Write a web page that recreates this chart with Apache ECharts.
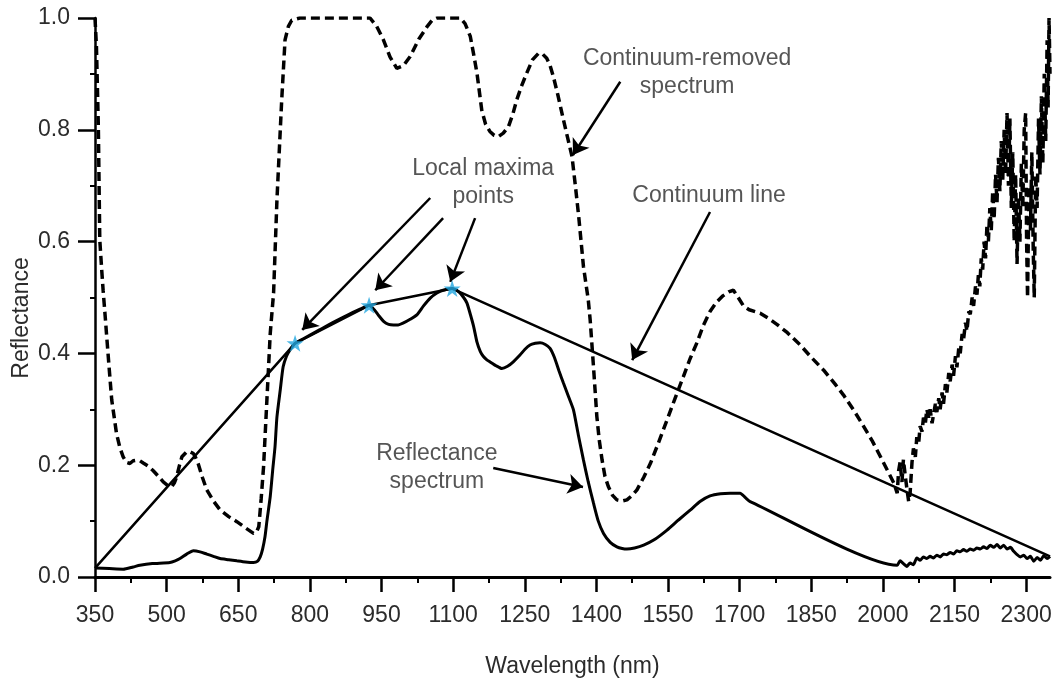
<!DOCTYPE html>
<html>
<head>
<meta charset="utf-8">
<title>Continuum removal of a reflectance spectrum</title>
<script src="https://cdn.jsdelivr.net/npm/echarts@6/dist/echarts.min.js"></script>
<style>
  html, body { margin: 0; padding: 0; background: #fff; }
  #chart { width: 1057px; height: 679px; }
</style>
</head>
<body>
<div id="chart"></div>
<script>
// Reflectance spectrum (solid line)
const reflWavelength = [
  350, 380, 409, 430, 444, 470, 507, 518, 528, 542, 556, 570, 584, 598, 612, 630, 647, 665, 682, 690,
  696, 701, 706, 710, 717, 722, 727, 731, 738, 744, 751, 758, 769, 790, 820, 850, 880, 905, 924, 935,
  943, 955, 965, 975, 985, 995, 1010, 1024, 1038, 1052, 1066, 1079, 1098, 1112, 1122, 1129, 1136, 1143, 1150, 1157,
  1163, 1170, 1177, 1190, 1202, 1214, 1226, 1240, 1250, 1261, 1272, 1282, 1293, 1303, 1312, 1322, 1331, 1342, 1352, 1362,
  1373, 1383, 1394, 1404, 1415, 1429, 1443, 1454, 1464, 1480, 1499, 1520, 1548, 1572, 1597, 1617, 1638, 1660, 1680, 1701,
  1712, 1722, 2030, 2036, 2043, 2050, 2057, 2064, 2071, 2078, 2085, 2092, 2099, 2106, 2113, 2120, 2127, 2134, 2141, 2148,
  2155, 2162, 2169, 2176, 2183, 2190, 2197, 2204, 2211, 2218, 2225, 2232, 2239, 2246, 2253, 2260, 2267, 2274, 2281, 2288,
  2295, 2302, 2309, 2316, 2323, 2330, 2337, 2344, 2350
];
const reflectance = [
  0.016, 0.015, 0.014, 0.018, 0.021, 0.024, 0.026, 0.029, 0.033, 0.041, 0.047, 0.045, 0.041, 0.037, 0.033, 0.031, 0.029, 0.027, 0.026, 0.028,
  0.036, 0.050, 0.072, 0.100, 0.144, 0.190, 0.233, 0.286, 0.335, 0.376, 0.395, 0.406, 0.418, 0.428, 0.442, 0.456, 0.469, 0.479, 0.486, 0.478,
  0.469, 0.457, 0.452, 0.451, 0.451, 0.454, 0.461, 0.469, 0.485, 0.499, 0.508, 0.513, 0.516, 0.510, 0.500, 0.490, 0.470, 0.448, 0.420, 0.403,
  0.395, 0.389, 0.385, 0.378, 0.373, 0.377, 0.385, 0.397, 0.407, 0.415, 0.418, 0.419, 0.416, 0.409, 0.393, 0.368, 0.347, 0.322, 0.299, 0.255,
  0.209, 0.170, 0.132, 0.100, 0.078, 0.062, 0.054, 0.051, 0.050, 0.052, 0.057, 0.066, 0.084, 0.102, 0.120, 0.135, 0.145, 0.149, 0.150, 0.150,
  0.142, 0.135, 0.021, 0.029, 0.024, 0.019, 0.025, 0.022, 0.034, 0.030, 0.036, 0.033, 0.037, 0.034, 0.039, 0.036, 0.041, 0.040, 0.044, 0.041,
  0.047, 0.045, 0.049, 0.046, 0.050, 0.048, 0.052, 0.050, 0.054, 0.051, 0.057, 0.053, 0.058, 0.052, 0.057, 0.050, 0.053, 0.046, 0.040, 0.036,
  0.039, 0.033, 0.037, 0.028, 0.035, 0.030, 0.038, 0.033, 0.037
];

// Continuum-removed spectrum (dashed line)
const crWavelength = [
  350, 353, 357, 360, 364, 367, 371, 374, 380, 385, 395, 402, 409, 416, 423, 430, 437, 444, 451, 462,
  472, 483, 493, 502, 511, 516, 521, 527, 532, 542, 549, 556, 561, 566, 575, 584, 598, 612, 630, 647,
  665, 682, 688, 693, 698, 703, 710, 717, 724, 731, 741, 748, 755, 762, 779, 926, 940, 954, 968, 982,
  996, 1010, 1028, 1045, 1056, 1066, 1115, 1125, 1136, 1143, 1150, 1160, 1168, 1177, 1186, 1195, 1205, 1216, 1225, 1233,
  1244, 1254, 1266, 1279, 1288, 1296, 1303, 1310, 1320, 1331, 1340, 1349, 1356, 1363, 1368, 1373, 1383, 1387, 1394, 1401,
  1406, 1412, 1418, 1425, 1434, 1443, 1454, 1464, 1475, 1485, 1499, 1513, 1530, 1548, 1565, 1582, 1596, 1610, 1624, 1638,
  1652, 1665, 1677, 1687, 1697, 1708, 1720, 1743, 1760, 1778, 1800, 1827, 1850, 1876, 1900, 1918, 1940, 1960, 1978, 1995,
  2010, 2023, 2030, 2033, 2036, 2040, 2043, 2047, 2050, 2054, 2057, 2061, 2064, 2068, 2071, 2075, 2078, 2082, 2085, 2089,
  2092, 2096, 2099, 2103, 2106, 2110, 2113, 2117, 2120, 2124, 2127, 2131, 2134, 2138, 2141, 2145, 2148, 2152, 2155, 2159,
  2162, 2166, 2169, 2173, 2176, 2180, 2183, 2187, 2190, 2194, 2197, 2200, 2203, 2206, 2209, 2212, 2215, 2218, 2221, 2224,
  2227, 2230, 2233, 2236, 2239, 2242, 2245, 2248, 2251, 2254, 2257, 2260, 2263, 2266, 2269, 2272, 2275, 2278, 2281, 2284,
  2287, 2290, 2293, 2296, 2299, 2301, 2303, 2306, 2309, 2312, 2315, 2317, 2320, 2323, 2326, 2329, 2332, 2335, 2338, 2341,
  2344, 2346, 2348, 2350
];
const continuumRemoved = [
  1.000, 0.950, 0.806, 0.603, 0.550, 0.513, 0.470, 0.436, 0.370, 0.317, 0.257, 0.232, 0.215, 0.205, 0.203, 0.208, 0.209, 0.208, 0.204, 0.198,
  0.190, 0.180, 0.170, 0.164, 0.162, 0.168, 0.179, 0.200, 0.215, 0.224, 0.224, 0.221, 0.213, 0.203, 0.178, 0.156, 0.136, 0.120, 0.108, 0.099,
  0.088, 0.078, 0.080, 0.090, 0.140, 0.197, 0.317, 0.436, 0.508, 0.674, 0.853, 0.961, 0.985, 0.996, 1.000, 1.000, 0.985, 0.961, 0.930, 0.910,
  0.915, 0.931, 0.962, 0.984, 0.996, 1.000, 1.000, 0.990, 0.967, 0.935, 0.901, 0.835, 0.810, 0.797, 0.790, 0.788, 0.794, 0.806, 0.828, 0.853,
  0.880, 0.901, 0.925, 0.937, 0.935, 0.928, 0.915, 0.895, 0.860, 0.818, 0.785, 0.752, 0.700, 0.645, 0.600, 0.555, 0.496, 0.460, 0.376, 0.287,
  0.245, 0.209, 0.180, 0.162, 0.146, 0.138, 0.136, 0.138, 0.146, 0.156, 0.178, 0.203, 0.240, 0.281, 0.320, 0.358, 0.390, 0.418, 0.450, 0.475,
  0.492, 0.503, 0.510, 0.513, 0.500, 0.485, 0.478, 0.472, 0.463, 0.452, 0.437, 0.415, 0.393, 0.370, 0.345, 0.325, 0.297, 0.269, 0.243, 0.215,
  0.190, 0.168, 0.150, 0.190, 0.205, 0.170, 0.210, 0.180, 0.160, 0.135, 0.150, 0.205, 0.230, 0.215, 0.250, 0.240, 0.270, 0.260, 0.285, 0.275,
  0.300, 0.285, 0.300, 0.275, 0.290, 0.310, 0.295, 0.320, 0.300, 0.330, 0.310, 0.345, 0.330, 0.365, 0.350, 0.380, 0.360, 0.395, 0.375, 0.410,
  0.400, 0.435, 0.425, 0.455, 0.440, 0.475, 0.470, 0.500, 0.485, 0.520, 0.505, 0.540, 0.520, 0.570, 0.550, 0.600, 0.570, 0.630, 0.600, 0.660,
  0.620, 0.690, 0.640, 0.720, 0.670, 0.750, 0.690, 0.780, 0.710, 0.800, 0.720, 0.830, 0.700, 0.820, 0.660, 0.760, 0.600, 0.720, 0.560, 0.680,
  0.600, 0.740, 0.660, 0.800, 0.830, 0.600, 0.500, 0.700, 0.620, 0.760, 0.580, 0.500, 0.720, 0.660, 0.820, 0.720, 0.860, 0.740, 0.900, 0.780,
  0.960, 0.840, 1.000, 0.900
];

// Convex hull (continuum line) vertices
const hullWavelength = [350, 769, 924, 1098, 2350];
const hullReflectance = [0.016, 0.418, 0.486, 0.516, 0.037];

// Local maxima on the hull
const maximaWavelength = [769, 924, 1098];
const maximaReflectance = [0.418, 0.486, 0.516];

// Axis ticks
const xTickValues = [350, 500, 650, 800, 950, 1100, 1250, 1400, 1550, 1700, 1850, 2000, 2150, 2300];
const xMinorTickValues = [425, 575, 725, 875, 1025, 1175, 1325, 1475, 1625, 1775, 1925, 2075, 2225];

// Annotation texts (centre point in data units)
const noteTexts = ['Continuum-removed\nspectrum', 'Local maxima\npoints', 'Continuum line', 'Reflectance\nspectrum'];
const noteWavelength = [1590, 1163, 1636, 1066];
const noteValue = [0.903, 0.705, 0.683, 0.195];

// Annotation arrows: tail -> head, data units
const arrowFrom = [[1450, 0.886], [1052, 0.678], [1079, 0.642], [1146, 0.642], [1638, 0.653], [1184, 0.195]];
const arrowTo = [[1351, 0.755], [784, 0.442], [937, 0.513], [1094, 0.528], [1475, 0.388], [1372, 0.161]];

const zip = (xs, ys) => xs.map((x, i) => [x, ys[i]]);
const FONT = '"Liberation Sans", Arial, Helvetica, sans-serif';
const TEXT = '#2b2b2b';
const FS = 23;
const STAR = 'path://M50,0 L61.8,35.1 L98.9,35.1 L69,57 L80.3,92.7 L50,70.6 L19.7,92.7 L31,57 L1.1,35.1 L38.2,35.1 Z';

const chart = echarts.init(document.getElementById('chart'), null, { renderer: 'canvas' });

chart.setOption({
  animation: false,
  backgroundColor: '#fff',
  textStyle: { fontFamily: FONT },
  grid: { left: 95, right: 7, top: 18, bottom: 102, containLabel: false, outerBoundsMode: 'none' },
  xAxis: [
    {
      type: 'value', min: 350, max: 2350,
      name: 'Wavelength (nm)', nameLocation: 'middle', nameGap: 78,
      nameTextStyle: { fontSize: FS, color: TEXT, fontFamily: FONT },
      axisLine: { show: true, lineStyle: { color: '#000', width: 3 } },
      axisTick: { show: true, customValues: xTickValues, length: 15, lineStyle: { color: '#000', width: 2.5 } },
      axisLabel: {
        show: true, customValues: xTickValues, margin: 27, fontSize: FS, color: TEXT, fontFamily: FONT,
        formatter: v => String(v)
      },
      splitLine: { show: false }
    },
    {
      type: 'value', min: 350, max: 2350, position: 'bottom',
      axisLine: { show: false },
      axisTick: { show: true, customValues: xMinorTickValues, length: 6, lineStyle: { color: '#000', width: 2 } },
      axisLabel: { show: false },
      splitLine: { show: false }
    }
  ],
  yAxis: {
    type: 'value', min: 0, max: 1, interval: 0.2,
    axisLine: { show: true, lineStyle: { color: '#000', width: 2.5 } },
    axisTick: { show: true, length: 17, lineStyle: { color: '#000', width: 2.5 } },
    minorTick: { show: true, splitNumber: 2, length: 5, lineStyle: { color: '#000', width: 2 } },
    axisLabel: { margin: 25, fontSize: FS, color: TEXT, fontFamily: FONT, formatter: v => v.toFixed(1) },
    splitLine: { show: false },
    minorSplitLine: { show: false }
  },
  graphic: [{
    type: 'text', x: 22, y: 318, rotation: Math.PI / 2,
    style: { text: 'Reflectance', fontSize: FS, fontFamily: FONT, fill: TEXT, align: 'center', verticalAlign: 'middle' }
  }],
  series: [
    {
      name: 'Continuum-removed spectrum', type: 'line', data: zip(crWavelength, continuumRemoved),
      showSymbol: false, symbol: 'none', silent: true,
      lineStyle: { color: '#000', width: 3.5, type: [9, 5] }, z: 2
    },
    {
      name: 'Reflectance spectrum', type: 'line', data: zip(reflWavelength, reflectance),
      showSymbol: false, symbol: 'none', smooth: 0.2, silent: true,
      lineStyle: { color: '#000', width: 3 }, z: 3
    },
    {
      name: 'Continuum line', type: 'line', data: zip(hullWavelength, hullReflectance),
      showSymbol: false, symbol: 'none', silent: true,
      lineStyle: { color: '#000', width: 2.5 }, z: 4
    },
    {
      name: 'Local maxima', type: 'scatter', data: zip(maximaWavelength, maximaReflectance),
      symbol: STAR, symbolSize: 17, silent: true,
      itemStyle: { color: '#22a6e0' }, z: 6
    },
    {
      name: 'Notes', type: 'scatter', silent: true, z: 7,
      symbol: 'circle', symbolSize: 1, itemStyle: { color: 'rgba(0,0,0,0)' },
      data: noteTexts.map((t, i) => ({ name: t, value: [noteWavelength[i], noteValue[i]] })),
      label: {
        show: true, position: 'inside', formatter: '{b}', fontSize: FS, lineHeight: 28,
        color: TEXT, fontFamily: FONT, align: 'center', verticalAlign: 'middle'
      },
      markLine: {
        silent: true, animation: false,
        symbol: ['none', 'arrow'], symbolSize: 15,
        label: { show: false },
        lineStyle: { color: '#000', width: 2.5, type: 'solid', opacity: 1 },
        itemStyle: { color: '#000' },
        emphasis: { disabled: true },
        data: arrowFrom.map((p, i) => [{ coord: p }, { coord: arrowTo[i] }])
      }
    }
  ]
});
</script>
</body>
</html>
